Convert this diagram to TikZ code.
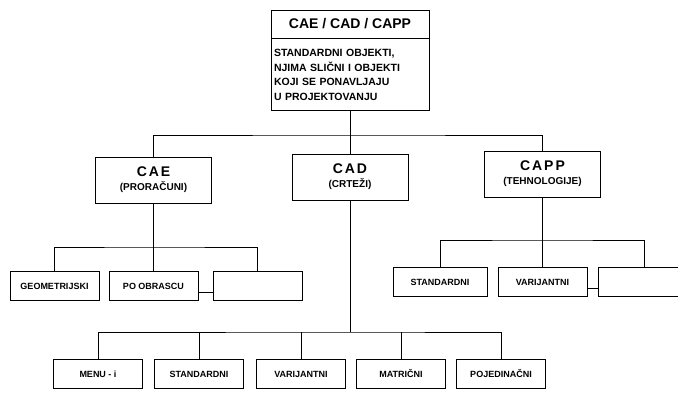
\documentclass[tikz,border=0pt]{standalone}
\usepackage{fontspec}
\setmainfont{Liberation Sans}
\newfontfamily\widefont[LetterSpace=14]{Liberation Sans}
\usetikzlibrary{positioning,calc}

\begin{document}
\begin{tikzpicture}[x=1pt, y=-1pt,
    box/.style={draw, line width=0.9pt, inner sep=0pt, minimum width=89pt, minimum height=29pt, font=\bfseries\fontsize{9}{10}\selectfont},
    glavni/.style={draw, line width=0.9pt, inner sep=0pt, minimum width=116pt, minimum height=46pt, align=center, font=\bfseries\fontsize{10}{12}\selectfont},
    veza/.style={line width=0.9pt}
]
\useasboundingbox (0,0) rectangle (678,394);

% vrh
\node[draw, line width=0.9pt, inner sep=0pt, minimum width=158pt, minimum height=28pt, font=\bfseries\fontsize{14}{16}\selectfont] (head) at (350,24) {CAE / CAD / CAPP};
\node[draw, line width=0.9pt, inner sep=0pt, minimum width=158pt, minimum height=72pt, text width=152pt, align=left, anchor=north, font=\bfseries\fontsize{10.5}{14.5}\selectfont] (body) at (head.south) {STANDARDNI OBJEKTI,\\NJIMA SLIČNI I OBJEKTI\\KOJI SE PONAVLJAJU\\U PROJEKTOVANJU};

% drugi nivo
\node[glavni] (cae) at (153.5,180) {{\widefont\bfseries\fontsize{14}{16}\selectfont CAE}\\[2pt](PRORAČUNI)};
\node[glavni] (cad) at (350,177) {{\widefont\bfseries\fontsize{14}{16}\selectfont CAD}\\[2pt](CRTEŽI)};
\node[glavni] (capp) at (542.5,174) {{\widefont\bfseries\fontsize{14}{16}\selectfont CAPP}\\[2pt](TEHNOLOGIJE)};

% CAE
\node[box] (geom) at (54.5,286) {GEOMETRIJSKI};
\node[box] (obrazac) at (153.5,286) {PO OBRASCU};
\node[box] (caeprazno) at (257.5,286) {};

% CAPP
\node[box, minimum width=94pt] (stdcapp) at (440,282) {STANDARDNI};
\node[box] (varcapp) at (542.5,282) {VARIJANTNI};
\node[box, minimum width=92pt] (capprazno) at (644,282) {};

% CAD
\node[box] (meni) at (98,374) {MENU - i};
\node[box] (stdcad) at (199,374) {STANDARDNI};
\node[box] (varcad) at (301,374) {VARIJANTNI};
\node[box] (matr) at (401,374) {MATRIČNI};
\node[box] (poj) at (501,374) {POJEDINAČNI};

\coordinate (r1) at (350,135);
\coordinate (r2) at (153.5,247);
\coordinate (r3) at (542.5,240);
\coordinate (r4) at (350,332);

\draw[veza] (body.south) -- (r1);
\draw[veza] (cae.north) |- (r1) -| (capp.north);
\draw[veza] (r1) -- (cad.north);

\draw[veza] (cae.south) -- (r2);
\draw[veza] (geom.north) |- (r2) -| (caeprazno.north);
\draw[veza] (r2) -- (obrazac.north);
\draw[veza] ([yshift=-6pt]obrazac.east) -- ([yshift=-6pt]caeprazno.west);

\draw[veza] (capp.south) -- (r3);
\draw[veza] (stdcapp.north) |- (r3) -| (capprazno.north);
\draw[veza] (r3) -- (varcapp.north);
\draw[veza] ([yshift=-6pt]varcapp.east) -- ([yshift=-6pt]capprazno.west);

\draw[veza] (cad.south) -- (r4);
\draw[veza] (meni.north) |- (r4) -| (poj.north);
\foreach \n in {stdcad,varcad,matr}
    \draw[veza] (\n.north) -- (\n.north |- r4);
\end{tikzpicture}
\end{document}
